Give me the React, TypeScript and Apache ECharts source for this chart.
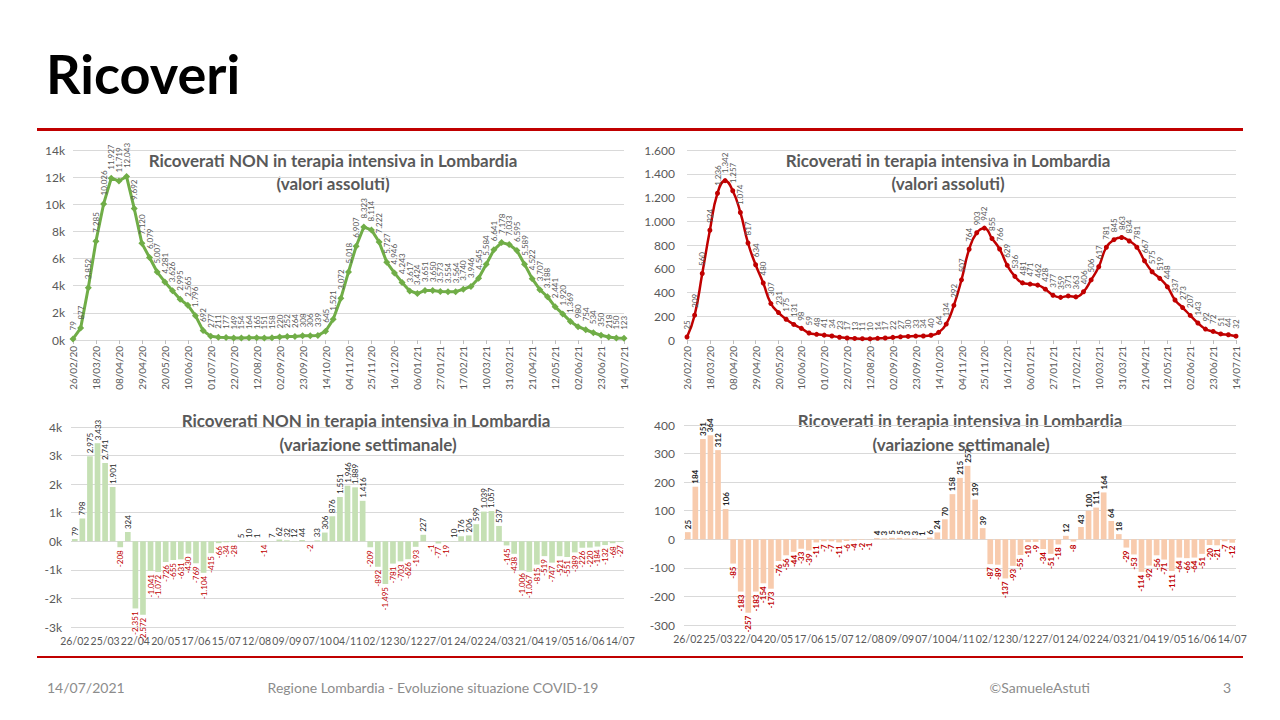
import React, { useEffect, useRef } from "react";
import * as echarts from "echarts";

const dates = [
  "26/02/20", "04/03/20", "11/03/20", "18/03/20", "25/03/20", "01/04/20", "08/04/20", "15/04/20", "22/04/20", "29/04/20",
  "06/05/20", "13/05/20", "20/05/20", "27/05/20", "03/06/20", "10/06/20", "17/06/20", "24/06/20", "01/07/20", "08/07/20",
  "15/07/20", "22/07/20", "29/07/20", "05/08/20", "12/08/20", "19/08/20", "26/08/20", "02/09/20", "09/09/20", "16/09/20",
  "23/09/20", "30/09/20", "07/10/20", "14/10/20", "21/10/20", "28/10/20", "04/11/20", "11/11/20", "18/11/20", "25/11/20",
  "02/12/20", "09/12/20", "16/12/20", "23/12/20", "30/12/20", "06/01/21", "13/01/21", "20/01/21", "27/01/21", "03/02/21",
  "10/02/21", "17/02/21", "24/02/21", "03/03/21", "10/03/21", "17/03/21", "24/03/21", "31/03/21", "07/04/21", "14/04/21",
  "21/04/21", "28/04/21", "05/05/21", "12/05/21", "19/05/21", "26/05/21", "02/06/21", "09/06/21", "16/06/21", "23/06/21",
  "30/06/21", "07/07/21", "14/07/21",
];

const nonIcuAbs = [
  79, 877, 3852, 7285, 10026, 11927, 11719, 12043, 9692, 7120,
  6079, 5007, 4281, 3626, 2995, 2565, 1796, 692, 277, 211,
  177, 149, 154, 164, 165, 151, 158, 220, 252, 264,
  308, 306, 339, 645, 1521, 3072, 5018, 6907, 8323, 8114,
  7222, 5727, 4946, 4243, 3617, 3424, 3651, 3650, 3573, 3554,
  3564, 3740, 3946, 4545, 5584, 6641, 7178, 7033, 6595, 5589,
  4522, 3707, 3188, 2441, 1920, 1369, 980, 754, 534, 350,
  218, 150, 123,
];

const icuAbs = [
  25, 209, 560, 924, 1236, 1342, 1257, 1074, 817, 634,
  480, 307, 231, 175, 131, 98, 59, 48, 41, 34,
  23, 17, 13, 11, 10, 14, 17, 22, 27, 30,
  33, 34, 40, 64, 134, 292, 507, 764, 903, 942,
  855, 766, 629, 536, 481, 471, 462, 428, 377, 359,
  371, 363, 406, 506, 617, 781, 845, 863, 834, 781,
  667, 575, 519, 448, 337, 273, 207, 143, 92, 72,
  51, 44, 32,
];

const nonIcuVar = [
  79, 798, 2975, 3433, 2741, 1901, -208, 324, -2351, -2572,
  -1041, -1072, -726, -655, -631, -430, -769, -1104, -415, -66,
  -34, -28, 5, 10, 1, -14, 7, 62, 32, 12,
  44, -2, 33, 306, 876, 1551, 1946, 1889, 1416, -209,
  -892, -1495, -781, -703, -626, -193, 227, -1, -77, -19,
  10, 176, 206, 599, 1039, 1057, 537, -145, -438, -1006,
  -1067, -815, -519, -747, -521, -551, -389, -226, -220, -184,
  -132, -68, -27,
];

const icuVar = [
  25, 184, 351, 364, 312, 106, -85, -183, -257, -183,
  -154, -173, -76, -56, -44, -33, -39, -11, -7, -7,
  -11, -6, -4, -2, -1, 4, 3, 5, 5, 3,
  3, 1, 6, 24, 70, 158, 215, 257, 139, 39,
  -87, -89, -137, -93, -55, -10, -9, -34, -51, -18,
  12, -8, 43, 100, 111, 164, 64, 18, -29, -53,
  -114, -92, -56, -71, -111, -64, -66, -64, -51, -20,
  -21, -7, -12,
];

const titleNon = "Ricoverati NON in terapia intensiva in Lombardia";
const titleIcu = "Ricoverati in terapia intensiva in Lombardia";
const subAbs = "(valori assoluti)";
const subVar = "(variazione settimanale)";

const FONT = "Lato, 'Open Sans', sans-serif";
const GRAY = "#595959";
const GRID = "#D9D9D9";
const RED = "#C00000";

const fmtIt = (n: number) => {
  const s = Math.abs(n).toString().replace(/\B(?=(\d{3})+(?!\d))/g, ".");
  return (n < 0 ? "-" : "") + s;
};

const barData = (vals: number[], posColor: string, negColor: string, weight: string) =>
  vals.map((v) => ({
    value: v,
    label:
      v >= 0
        ? { position: "top", align: "left", color: posColor, fontWeight: weight }
        : { position: "bottom", align: "right", color: negColor, fontWeight: weight },
  }));

const txt = (text: string, x: number, y: number, size: number, opts: any = {}) => ({
  type: "text",
  x,
  y,
  style: {
    text,
    fontSize: size,
    fontFamily: FONT,
    fill: opts.fill || GRAY,
    fontWeight: opts.weight || "normal",
    align: opts.align || "center",
    verticalAlign: "middle",
  },
});

export default function App() {
  const ref = useRef<HTMLDivElement>(null);
  useEffect(() => {
    if (!ref.current) return;
    const chart = echarts.init(ref.current, undefined, { renderer: "svg" });
    const topX = (gi: number) => ({
      gridIndex: gi,
      type: "category",
      data: dates,
      boundaryGap: false,
      axisLine: { show: false },
      axisTick: { show: true, interval: 2, length: 4, lineStyle: { color: "#BFBFBF" } },
      axisLabel: {
        interval: 2,
        rotate: 90,
        fontSize: 10,
        color: GRAY,
        margin: 6,
        fontFamily: FONT,
        showMinLabel: true,
        showMaxLabel: true,
        hideOverlap: false,
      },
      splitLine: { show: false },
    });
    const botX = (gi: number) => ({
      gridIndex: gi,
      type: "category",
      data: dates,
      boundaryGap: true,
      axisLine: { show: false, onZero: false },
      axisTick: { show: false },
      axisLabel: {
        interval: 3,
        fontSize: 10.5,
        color: GRAY,
        margin: 8,
        fontFamily: FONT,
        showMinLabel: true,
        showMaxLabel: true,
        hideOverlap: false,
        formatter: (v: string) => v.slice(0, 5),
      },
    });
    const yAx = (gi: number, min: number, max: number, interval: number, fmt: any, margin: number) => ({
      gridIndex: gi,
      type: "value",
      min,
      max,
      interval,
      axisLine: { show: false },
      axisTick: { show: false },
      axisLabel: { formatter: fmt, color: GRAY, fontSize: 12, margin, fontFamily: FONT },
      splitLine: { lineStyle: { color: GRID, width: 1 } },
    });
    const lineLabel = {
      show: true,
      position: "top",
      rotate: 90,
      align: "left",
      verticalAlign: "middle",
      distance: 5,
      fontSize: 8,
      color: GRAY,
      fontFamily: FONT,
      formatter: (p: any) => fmtIt(p.value),
    };
    const barLabel = {
      show: true,
      rotate: 90,
      verticalAlign: "middle",
      distance: 3,
      fontSize: 8,
      fontFamily: FONT,
      formatter: (p: any) => fmtIt(p.value),
    };

    const option: any = {
      animation: false,
      textStyle: { fontFamily: FONT },
      grid: [
        { left: 73, top: 150, width: 551, height: 190 },
        { left: 687, top: 150, width: 549, height: 190 },
        { left: 71, top: 427, width: 553, height: 200 },
        { left: 684, top: 425, width: 552, height: 200 },
      ],
      xAxis: [topX(0), topX(1), botX(2), botX(3)],
      yAxis: [
        yAx(0, 0, 14000, 2000, (v: number) => v / 1000 + "k", 8),
        yAx(1, 0, 1600, 200, (v: number) => fmtIt(v), 12),
        yAx(2, -3000, 4000, 1000, (v: number) => v / 1000 + "k", 9),
        yAx(3, -300, 400, 100, (v: number) => String(v), 9),
      ],
      series: [
        {
          type: "line",
          xAxisIndex: 0,
          yAxisIndex: 0,
          data: nonIcuAbs,
          symbol: "diamond",
          symbolSize: 7,
          showAllSymbol: true,
          lineStyle: { color: "#70AD47", width: 3 },
          itemStyle: { color: "#70AD47" },
          label: lineLabel,
        },
        {
          type: "line",
          xAxisIndex: 1,
          yAxisIndex: 1,
          data: icuAbs,
          smooth: true,
          symbol: "circle",
          symbolSize: 5,
          showAllSymbol: true,
          lineStyle: { color: RED, width: 2.5 },
          itemStyle: { color: RED },
          label: lineLabel,
        },
        {
          type: "bar",
          xAxisIndex: 2,
          yAxisIndex: 2,
          data: barData(nonIcuVar, "#262626", RED, "normal"),
          barCategoryGap: "25%",
          itemStyle: { color: "#C5E0B4" },
          label: barLabel,
        },
        {
          type: "bar",
          xAxisIndex: 3,
          yAxisIndex: 3,
          data: barData(icuVar, "#262626", RED, "bold"),
          barCategoryGap: "25%",
          itemStyle: { color: "#F8CBAD" },
          label: barLabel,
        },
      ],
      graphic: [
        txt("Ricoveri", 46, 73, 54, { fill: "#000000", weight: "bold", align: "left" }),
        { type: "rect", shape: { x: 37, y: 128, width: 1206, height: 3 }, style: { fill: RED } },
        { type: "rect", shape: { x: 37, y: 656, width: 1206, height: 2 }, style: { fill: RED } },
        txt(titleNon, 333, 160, 17, { weight: "bold" }),
        txt(subAbs, 333, 183, 17, { weight: "bold" }),
        txt(titleIcu, 948, 160, 17, { weight: "bold" }),
        txt(subAbs, 948, 183, 17, { weight: "bold" }),
        txt(titleNon, 366, 420, 17, { weight: "bold" }),
        txt(subVar, 368, 444, 17, { weight: "bold" }),
        txt(titleIcu, 960, 420, 17, { weight: "bold" }),
        txt(subVar, 961, 444, 17, { weight: "bold" }),
        txt("14/07/2021", 47, 687, 14, { fill: "#8C8C8C", align: "left" }),
        txt("Regione Lombardia - Evoluzione situazione COVID-19", 433, 687, 14, { fill: "#8C8C8C" }),
        txt("©SamueleAstuti", 1090, 687, 14, { fill: "#8C8C8C", align: "right" }),
        txt("3", 1231, 687, 14, { fill: "#8C8C8C", align: "right" }),
      ],
    };
    chart.setOption(option);
    return () => chart.dispose();
  }, []);
  return (
    <div
      ref={ref}
      style={{ position: "absolute", left: 0, top: 0, width: 1280, height: 720, background: "#ffffff" }}
    />
  );
}
